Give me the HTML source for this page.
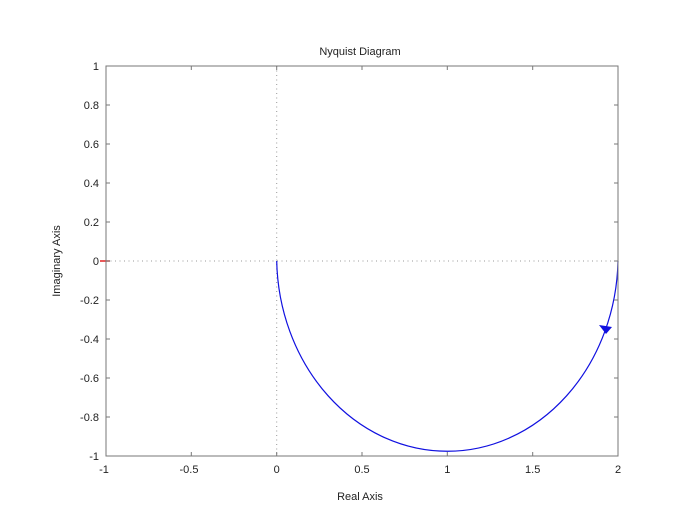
<!DOCTYPE html>
<html><head><style>
body{margin:0;background:#fff;}
svg text{font-family:"Liberation Sans",sans-serif;font-size:11px;fill:#222;}
</style></head><body>
<svg width="683" height="512" xmlns="http://www.w3.org/2000/svg">
<rect width="683" height="512" fill="#fff"/>
<g stroke="#999" stroke-width="1" stroke-dasharray="1,3.5">
<line x1="106" y1="261" x2="618" y2="261"/>
<line x1="276.7" y1="66" x2="276.7" y2="456"/>
</g>
<path d="M276.7,261 A170.7,195 0 0,0 618,261" fill="none" stroke="#1010e0" stroke-width="1.2"/>
<polygon points="599,325 612,327 606,334" fill="#1010e0"/>
<line x1="100" y1="261" x2="110" y2="261" stroke="#e02020" stroke-width="1.5"/>
<rect x="106" y="66" width="512" height="390" fill="none" stroke="#777" stroke-width="1"/>
<g stroke="#777">
<line x1="191.3" y1="456" x2="191.3" y2="452"/><line x1="191.3" y1="66" x2="191.3" y2="70"/>
<line x1="276.7" y1="456" x2="276.7" y2="452"/><line x1="276.7" y1="66" x2="276.7" y2="70"/>
<line x1="362" y1="456" x2="362" y2="452"/><line x1="362" y1="66" x2="362" y2="70"/>
<line x1="447.3" y1="456" x2="447.3" y2="452"/><line x1="447.3" y1="66" x2="447.3" y2="70"/>
<line x1="532.7" y1="456" x2="532.7" y2="452"/><line x1="532.7" y1="66" x2="532.7" y2="70"/>
<line x1="106" y1="105" x2="110" y2="105"/><line x1="618" y1="105" x2="614" y2="105"/>
<line x1="106" y1="144" x2="110" y2="144"/><line x1="618" y1="144" x2="614" y2="144"/>
<line x1="106" y1="183" x2="110" y2="183"/><line x1="618" y1="183" x2="614" y2="183"/>
<line x1="106" y1="222" x2="110" y2="222"/><line x1="618" y1="222" x2="614" y2="222"/>
<line x1="106" y1="261" x2="110" y2="261"/><line x1="618" y1="261" x2="614" y2="261"/>
<line x1="106" y1="300" x2="110" y2="300"/><line x1="618" y1="300" x2="614" y2="300"/>
<line x1="106" y1="339" x2="110" y2="339"/><line x1="618" y1="339" x2="614" y2="339"/>
<line x1="106" y1="378" x2="110" y2="378"/><line x1="618" y1="378" x2="614" y2="378"/>
<line x1="106" y1="417" x2="110" y2="417"/><line x1="618" y1="417" x2="614" y2="417"/>
</g>
<g text-anchor="end">
<text x="99" y="70">1</text><text x="99" y="109">0.8</text><text x="99" y="148">0.6</text>
<text x="99" y="187">0.4</text><text x="99" y="226">0.2</text><text x="99" y="265">0</text>
<text x="99" y="304">-0.2</text><text x="99" y="343">-0.4</text><text x="99" y="382">-0.6</text>
<text x="99" y="421">-0.8</text><text x="99" y="460">-1</text>
</g>
<g text-anchor="middle">
<text x="104" y="473">-1</text><text x="189" y="473">-0.5</text><text x="276.7" y="473">0</text>
<text x="362" y="473">0.5</text><text x="447.3" y="473">1</text><text x="532.7" y="473">1.5</text>
<text x="618" y="473">2</text>
<text x="360" y="500">Real Axis</text>
<text x="360" y="55">Nyquist Diagram</text>
<text transform="translate(60,261) rotate(-90)">Imaginary Axis</text>
</g>
</svg>
</body></html>
